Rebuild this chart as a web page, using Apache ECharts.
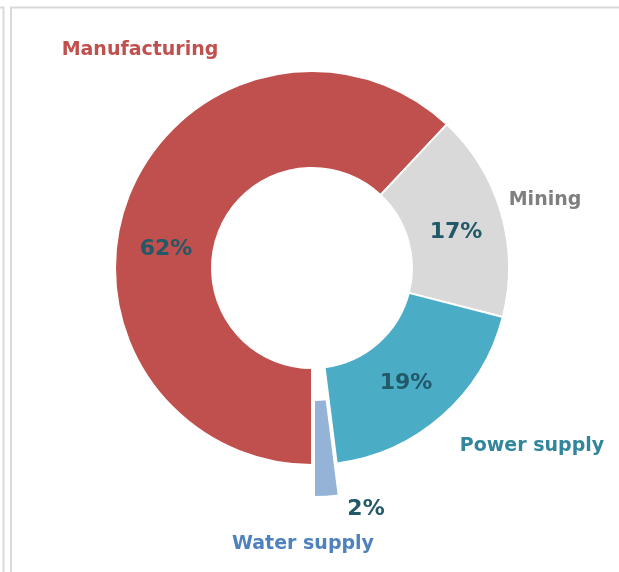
<!DOCTYPE html>
<html>
<head>
<meta charset="utf-8">
<script src="https://cdn.jsdelivr.net/npm/echarts@6/dist/echarts.min.js"></script>
<style>
  html, body { margin: 0; padding: 0; background: #fff; }
  #chart { width: 619px; height: 572px; }
</style>
</head>
<body>
<div id="chart"></div>
<script>
// Sector shares (%)
const sectors = ['Manufacturing', 'Mining', 'Power supply', 'Water supply'];
const shares = [62, 17, 19, 2];
const sliceColors = ['#c0504d', '#d9d9d9', '#4bacc6', '#95b3d7'];
const nameColors = ['#c0504d', '#7f7f7f', '#31859c', '#4f81bd'];
const explodedSector = 'Water supply';

// Label anchors (px) for the share values and for the sector names
const valueLabelPos = [[166, 249], [456, 232], [406, 383], [366, 509]];
const nameLabelPos = [[140, 50], [545, 200], [532, 446], [303, 544]];

const CENTER = [312, 268];
const RADIUS = [100, 197];
const FONT = '"DejaVu Sans", Verdana, sans-serif';

const chart = echarts.init(document.getElementById('chart'), null, { renderer: 'canvas' });

const placeAt = (positions) => (params) => {
  const p = positions[params.dataIndex];
  return { x: p[0], y: p[1], align: 'center', verticalAlign: 'middle' };
};

// transparent ring that only carries text labels
const labelRing = (formatter, fontSize, colors, positions) => ({
  type: 'pie',
  center: CENTER,
  radius: RADIUS,
  startAngle: 270,
  silent: true,
  avoidLabelOverlap: false,
  emphasis: { disabled: true },
  label: {
    show: true,
    position: 'inside',
    formatter: formatter,
    fontFamily: FONT,
    fontWeight: 'bold',
    fontSize: fontSize
  },
  labelLine: { show: false },
  labelLayout: placeAt(positions),
  data: sectors.map((name, i) => ({
    name: name,
    value: shares[i],
    itemStyle: { color: 'transparent', borderWidth: 0 },
    label: { color: colors[i] }
  }))
});

chart.setOption({
  animation: false,
  backgroundColor: '#ffffff',
  graphic: [
    {
      type: 'polyline',
      silent: true,
      shape: { points: [[0, 7.5], [3.5, 7.5], [3.5, 572]] },
      style: { stroke: '#d9d9d9', lineWidth: 2, fill: null }
    },
    {
      type: 'polyline',
      silent: true,
      shape: { points: [[11, 572], [11, 7.5], [619, 7.5]] },
      style: { stroke: '#d9d9d9', lineWidth: 2, fill: null }
    }
  ],
  series: [
    {
      // the donut itself, with the small water slice pulled out
      type: 'pie',
      center: CENTER,
      radius: RADIUS,
      startAngle: 270,
      clockwise: true,
      selectedMode: 'single',
      selectedOffset: 32,
      avoidLabelOverlap: false,
      itemStyle: { borderColor: '#ffffff', borderWidth: 2 },
      emphasis: { disabled: true },
      label: { show: false },
      labelLine: { show: false },
      data: sectors.map((name, i) => ({
        name: name,
        value: shares[i],
        selected: name === explodedSector,
        itemStyle: { color: sliceColors[i] }
      }))
    },
    labelRing((p) => p.value + '%', 22, sectors.map(() => '#215968'), valueLabelPos),
    labelRing('{b}', 19, nameColors, nameLabelPos)
  ]
});
</script>
</body>
</html>
